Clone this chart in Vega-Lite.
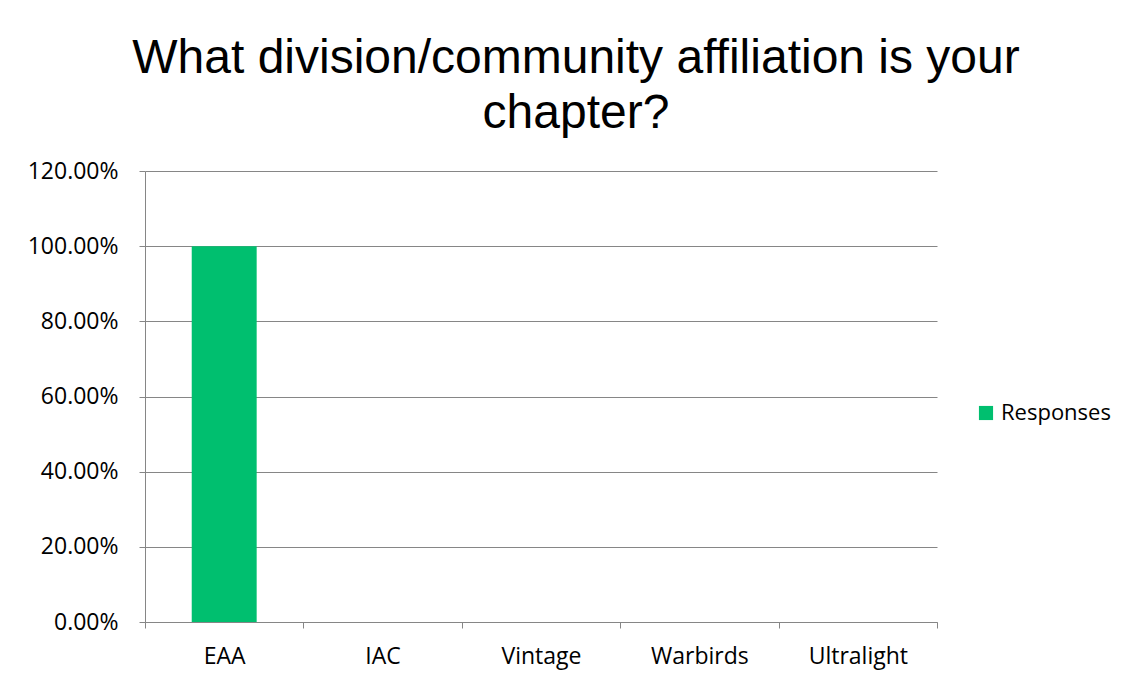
{
  "$schema": "https://vega.github.io/schema/vega-lite/v6.json",
  "width": 792,
  "height": 451,
  "autosize": {"type": "none"},
  "padding": {"left": 145, "top": 171, "right": 195, "bottom": 62},
  "background": "white",
  "title": {
    "text": ["What division/community affiliation is your", "chapter?"],
    "font": "Liberation Sans",
    "fontSize": 48,
    "fontWeight": "normal",
    "color": "#000000",
    "anchor": "middle",
    "dx": 35,
    "offset": 22,
    "lineHeight": 55
  },
  "data": {
    "values": [
      {"category": "EAA", "value": 1.0, "series": "Responses"},
      {"category": "IAC", "value": 0, "series": "Responses"},
      {"category": "Vintage", "value": 0, "series": "Responses"},
      {"category": "Warbirds", "value": 0, "series": "Responses"},
      {"category": "Ultralight", "value": 0, "series": "Responses"}
    ]
  },
  "mark": {"type": "bar", "width": {"band": 0.41}},
  "encoding": {
    "x": {
      "field": "category",
      "type": "nominal",
      "sort": null,
      "scale": {"paddingInner": 0, "paddingOuter": 0},
      "axis": {
        "title": null,
        "labelAngle": 0,
        "labelFont": "Open Sans",
        "labelFontSize": 23,
        "labelColor": "#000000",
        "labelPadding": 17,
        "tickBand": "extent",
        "tickSize": 6,
        "tickColor": "#868686",
        "domainColor": "#868686",
        "grid": false
      }
    },
    "y": {
      "field": "value",
      "type": "quantitative",
      "scale": {"domain": [0, 1.2]},
      "axis": {
        "title": null,
        "values": [0, 0.2, 0.4, 0.6, 0.8, 1.0, 1.2],
        "format": ".2%",
        "labelFont": "Open Sans",
        "labelFontSize": 23,
        "labelColor": "#000000",
        "labelPadding": 21,
        "tickSize": 6,
        "tickColor": "#868686",
        "domainColor": "#868686",
        "grid": true,
        "gridColor": "#868686"
      }
    },
    "color": {
      "field": "series",
      "type": "nominal",
      "scale": {"range": ["#00BF6F"]},
      "legend": {
        "title": null,
        "orient": "none",
        "legendX": 830,
        "legendY": 231,
        "symbolType": "square",
        "symbolSize": 200,
        "symbolStrokeWidth": 0,
        "labelFont": "Open Sans",
        "labelFontSize": 22,
        "labelColor": "#000000"
      }
    }
  },
  "config": {"view": {"stroke": null}}
}
